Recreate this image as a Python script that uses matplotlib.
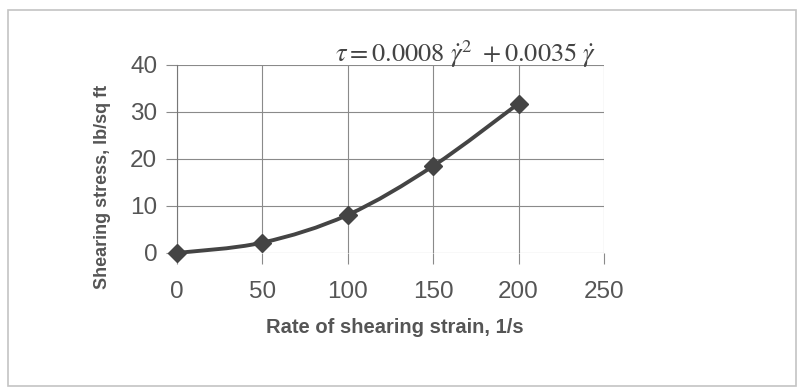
import matplotlib.pyplot as plt
from matplotlib.path import Path
from matplotlib.patches import PathPatch, Rectangle
import numpy as np

# data
strain_rate = [0, 50, 100, 150, 200]
shear_stress = [0.0, 2.2, 8.1, 18.5, 31.8]
x_ticks = [0, 50, 100, 150, 200, 250]
y_ticks = [0, 10, 20, 30, 40]

INK = "#444444"
TXT = "#555555"
GRID = "#8a8a8a"

plt.rcParams["mathtext.fontset"] = "stix"

fig = plt.figure(figsize=(8, 3.88), dpi=100, facecolor="white")
fig.patches.append(Rectangle((0.010, 0.005), 0.985, 0.969, transform=fig.transFigure,
                             fill=False, edgecolor="#c4c4c4", linewidth=1.2))

ax = fig.add_axes([0.221, 0.348, 0.534, 0.4845])
ax.set_xlim(0, 250)
ax.set_ylim(0, 40)
ax.set_xticks(x_ticks)
ax.set_yticks(y_ticks)
ax.grid(True, color=GRID, linewidth=0.8)
for name, sp in ax.spines.items():
    sp.set_visible(name == "left")
ax.spines["left"].set_color("#777777")
ax.tick_params(axis="both", direction="out", length=8, width=0.8, color=GRID,
               labelsize=17.5, labelcolor=TXT)
ax.tick_params(axis="x", pad=12)
ax.tick_params(axis="y", pad=6)
for lab in ax.get_xticklabels() + ax.get_yticklabels():
    lab.set_family("Liberation Sans")

# smooth (Catmull-Rom) curve through the points, like Excel's smoothed line
pts = np.column_stack([strain_rate, shear_stress]).astype(float)
ext = np.vstack([pts[0], pts, pts[-1]])
verts, codes = [tuple(pts[0])], [Path.MOVETO]
for i in range(1, len(ext) - 2):
    p0, p1, p2, p3 = ext[i - 1], ext[i], ext[i + 1], ext[i + 2]
    verts += [tuple(p1 + (p2 - p0) / 6), tuple(p2 - (p3 - p1) / 6), tuple(p2)]
    codes += [Path.CURVE4] * 3
ax.add_patch(PathPatch(Path(verts, codes), fill=False, edgecolor=INK,
                       linewidth=2.8, zorder=3, clip_on=False))
ax.plot(strain_rate, shear_stress, linestyle="none", marker="D", markersize=9,
        color=INK, zorder=4, clip_on=False)

# axis titles placed like the Excel chart
fig.text(0.494, 1 - 333 / 388, "Rate of shearing strain, 1/s", family="Liberation Sans",
         fontsize=14.5, fontweight="bold", color=TXT, ha="center", va="baseline")
fig.text(0.128, 1 - 187 / 388, "Shearing stress, lb/sq ft", family="Liberation Sans",
         fontsize=13, fontweight="bold", color=TXT, ha="center", va="center",
         rotation=90)

fig.text(0.746, 0.840, r"$\tau = 0.0008\ \dot{\gamma}^{2}\ + 0.0035\ \dot{\gamma}$",
         ha="right", va="baseline", fontsize=19, color=INK)

fig.savefig("out.png", dpi=100, facecolor="white")
